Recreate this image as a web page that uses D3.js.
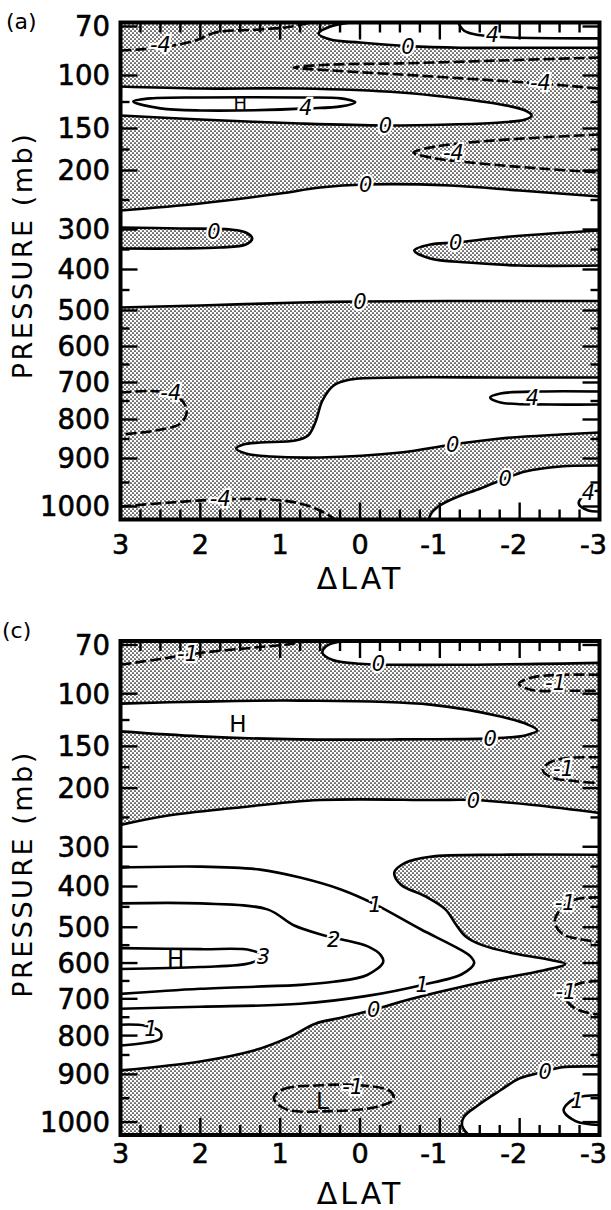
<!DOCTYPE html>
<html><head><meta charset="utf-8">
<script src="https://cdn.jsdelivr.net/npm/d3@7"></script>
<style>
html,body{margin:0;padding:0;background:#fff;}
svg{display:block;}
text{font-family:"DejaVu Sans",sans-serif;fill:#000;}
</style></head><body>
<svg id="chart" width="611" height="1210"></svg>
<script>
// ---------------- axis data ----------------
const dLatTicks = [3, 2, 1, 0, -1, -2, -3];
const dLatMinor = [2.75, 2.5, 2.25, 1.75, 1.5, 1.25, 0.75, 0.5, 0.25, -0.25, -0.5, -0.75, -1.25, -1.5, -1.75, -2.25, -2.5, -2.75];
const pressureTicks = [70, 100, 150, 200, 300, 400, 500, 600, 700, 800, 900, 1000];
const pressureMinor = [125, 175, 250, 350, 450, 550, 650, 750, 850, 950];
// the printed pressure axis is hand-spaced: level -> offset along a 497-unit tall axis
const pressureAxisLevels  = [67.5, 70, 100, 150, 200, 300, 400, 500, 600, 700, 800, 900, 1000, 1030];
const pressureAxisOffsets = [0, 4, 53, 106, 148, 207, 247, 288, 324, 360, 397, 436, 484, 497];

// ---------------- panel (a): contours as [dLAT, pressure mb] ----------------
const a_zeroTop    = [[0.12,67.5],[0.37,70],[0.52,74.3],[0.37,78],[0,79.8],[-0.6,82],[-1.26,83],[-2.0,83],[-3,83]];
const a_zeroTongue = [[3,110.4],[2,112.3],[0.75,112.3],[-0.51,116],[-1.13,120.7],[-1.76,127.3],[-2.07,133],[-2.15,137.7],[-2.07,141.5],[-1.76,144.3],[-1.13,146.2],[-0.32,147.2],[0.75,145.3],[2,141.5],[3,137.7]];
const a_zeroBand   = [[3,267.8],[2,255.9],[1,239],[0.5,228.8],[-0.07,223.7],[-1.13,225.4],[-2,233.9],[-3,244]];
const a_zeroTongueL= [[3,296.6],[2.25,298.3],[1.62,300],[1.43,307.5],[1.35,322.5],[1.43,337.5],[1.75,345],[2.25,347.5],[3,347.5]];
const a_zeroTongueR= [[-3,302.5],[-2.39,310],[-1.76,320],[-1.2,332.5],[-0.88,337.5],[-0.68,352.5],[-0.88,372.5],[-1.35,382.5],[-2,390],[-3,390]];
const a_zeroMid    = [[3,492.7],[2,487.8],[0.75,480.5],[0,478],[-1.13,476.9],[-3,476.9]];
const a_zeroS      = [[-3,686.2],[-1.76,686.2],[-0.51,686.2],[0.12,691.7],[0.33,708.1],[0.47,748.6],[0.56,807.7],[0.65,841],[0.81,853.8],[1.25,858.9],[1.46,864],[1.55,874.4],[1.43,887.2],[1.12,894.9],[0.5,897.4],[-0.51,884.6],[-1.16,864],[-1.76,848.6],[-2.51,838.5],[-3,833.3]];
const a_zeroBot    = [[-3,914.6],[-2.51,916.6],[-2.07,927],[-1.82,941.6],[-1.51,962.4],[-1.2,981.2],[-1.0,997.9],[-0.9,1013.8],[-0.86,1030]];
const a_pos4Top    = [[-1.23,67.5],[-1.3,72.4],[-1.45,74.9],[-1.66,76],[-1.89,76.7],[-3,77.3]];
const a_pos4H      = [[2.84,124.5],[2.62,121.6],[2,120.7],[0.75,120.7],[0.24,121.6],[0.06,125.4],[0.24,129.1],[0.62,131],[2,133],[2.5,131]];
const a_pos4R      = [[-3,724.3],[-2.26,724.3],[-1.76,729.7],[-1.63,740.5],[-1.76,754],[-2.39,759.4],[-3,759.4]];
const a_pos4Bot    = [[-3,966.6],[-2.82,975],[-2.74,993.8],[-2.86,1009.2],[-3,1011.5]];
const a_neg4Top    = [[3,84.7],[2.5,82.9],[2.06,78.6],[1.81,73.7],[1.25,71.8],[0.87,70.2],[0.62,67.5]];
const a_neg4Upper  = [[-3,89],[-1.76,90.8],[-0.51,92.6],[0.37,93.3],[0.83,95.1],[0.37,96.9],[-0.51,99.4],[-1.51,103.8],[-2.26,107.6],[-3,112.3]];
const a_neg4Mid    = [[-3,157.1],[-2.26,160.7],[-1.51,165.5],[-0.95,171.4],[-0.67,178.6],[-0.95,185.7],[-1.51,191.7],[-2.26,197.6],[-3,203.4]];
const a_neg4L      = [[3,727],[2.5,724.3],[2.27,740.5],[2.17,775.6],[2.25,810.2],[2.56,828.2],[3,838.5]];
const a_neg4Bot    = [[3,1000],[2.37,991.7],[1.75,985.4],[1.12,985.4],[0.75,993.8],[0.5,1009.2],[0.31,1030]];
const a_labels = [["-4",2.5,81],["0",-0.6,82],["4",-1.66,75],["4",0.68,130],["-4",-2.26,107],["0",-0.32,147.2],
  ["0",-0.07,223.7],["-4",-1.17,178],["0",1.83,304],["0",-1.2,333],["0",0,478],["-4",2.37,727],["4",-2.16,741],
  ["0",-1.16,864],["0",-1.82,941.6],["4",-2.86,971],["-4",1.75,984]];
const a_marks = [["H",1.5,126]];

// ---------------- panel (c) ----------------
const c_zeroTop    = [[0.22,67.5],[0.42,70.6],[0.47,74.9],[0.34,79.2],[0,81.6],[-1.13,82.2],[-3,81]];
const c_zeroTongue = [[3,109.4],[2,107.5],[0.75,106.6],[-0.88,110.4],[-1.76,121.7],[-2.1,129.2],[-2.22,134.9],[-2.07,139.6],[-1.63,142.4],[-0.51,143.4],[0.75,143.4],[2,140.5],[3,135.8]];
const c_zeroBand   = [[3,262.7],[2.44,247.5],[1.58,233.9],[0.5,220.3],[-0.92,220.3],[-1.42,220.3],[-2.17,228.8],[-3,242.4]];
const c_zeroMain   = [[-3,320],[-1.76,320],[-0.88,325],[-0.57,340],[-0.43,365],[-0.51,395],[-0.82,424.4],[-1.07,456.1],[-1.2,492.7],[-1.32,525],[-1.53,550],[-1.97,575],[-2.39,591.7],[-2.57,602.8],[-2.2,625],[-1.6,650],[-1.0,680.5],[-0.51,708.1],[-0.17,729.7],[0.24,751.3],[0.56,767.6],[0.87,802.6],[1.33,838.5],[2,866.7],[3,889.7]];
const c_zeroBot    = [[-3,879.5],[-2.51,882.1],[-2.32,892.3],[-2,908.3],[-1.76,933.3],[-1.48,964.6],[-1.3,989.6],[-1.28,1009.2],[-1.36,1030]];
const c_pos1       = [[3,352.5],[2,350],[1.25,357.5],[0.75,377.5],[0.24,407.3],[-0.19,443.9],[-0.76,505.6],[-1.2,555.6],[-1.38,580.6],[-1.43,600],[-1.28,630.6],[-0.78,661.1],[-0.09,691.7],[0.75,713.5],[2,721.6],[3,727]];
const c_pos2       = [[3,441.5],[2,441.5],[1.16,456.1],[0.83,495.1],[0.5,519.4],[0.24,533.4],[-0.09,552.8],[-0.26,577.8],[-0.29,597.2],[-0.09,633.4],[0.33,652.5],[0.75,661.1],[2,671.9],[3,686.2]];
const c_pos3       = [[3,558.4],[2,561.2],[1.37,564],[1.22,580.7],[1.37,600],[2,611.1],[3,616.7]];
const c_pos1L      = [[3,770.3],[2.69,773],[2.5,789.2],[2.5,807.7],[2.75,820.5],[3,825.6]];
const c_pos1Bot    = [[-3,943.7],[-2.7,950],[-2.55,975],[-2.7,997.9],[-3,1006.9]];
const c_neg1Top    = [[3,82.2],[2.5,78.6],[2,74.9],[1.37,71.8],[0.87,69.4],[0.68,67.5]];
const c_neg1R1     = [[-3,88.4],[-2.51,88.4],[-2.14,90.2],[-1.99,93.9],[-2.14,97.6],[-2.64,98.2],[-3,98.2]];
const c_neg1R2     = [[-3,163.1],[-2.57,164.3],[-2.36,170.2],[-2.29,178.6],[-2.39,186.9],[-2.7,191.7],[-3,194]];
const c_neg1R3     = [[-3,426.8],[-2.7,431.7],[-2.51,456.1],[-2.44,487.8],[-2.54,519.4],[-2.76,533.4],[-3,541.7]];
const c_neg1R4     = [[-3,650],[-2.7,661.1],[-2.57,694.4],[-2.7,727],[-3,743.2]];
const c_neg1Low    = [[1.08,950],[0.96,931.2],[0.5,922.9],[0,922.9],[-0.38,935.4],[-0.42,952.1],[-0.19,968.8],[0.37,977.1],[0.93,972.9]];
const c_labels = [["-1",2.16,75.5],["0",-0.23,81.6],["-1",-2.45,93],["0",-1.63,142.4],["-1",-2.55,177],["0",-1.42,220.3],
  ["1",-0.19,443.9],["2",0.33,533],["1",-0.78,661],["0",-0.17,729.7],["3",1.21,581],["1",2.62,781],["-1",-2.57,440],
  ["-1",-2.58,680],["0",-2.32,892.3],["1",-2.72,955],["-1",0.09,925]];
const c_marks = [["H",1.53,128.3],["H",2.31,589],["L",0.47,955]];

// ---------------- drawing ----------------
const svg = d3.select("#chart");
const defs = svg.append("defs");
const pat = defs.append("pattern").attr("id","stip").attr("patternUnits","userSpaceOnUse").attr("width",4).attr("height",4);
pat.append("rect").attr("width",4).attr("height",4).attr("fill","#fff");
pat.append("circle").attr("cx",1).attr("cy",1).attr("r",0.85).attr("fill","#000");
pat.append("circle").attr("cx",3).attr("cy",3).attr("r",0.85).attr("fill","#000");

const x = d3.scaleLinear().domain([3,-3]).range([120.5,599.5]);

const panels = [
  {id:"a", tag:"(a)", top:22.5, height:497, tagX:6, tagY:21, labDy:25, titleDy:59,
   white:[[{c:a_zeroTop},{p:[-3,67.5]}],[{c:a_zeroTongue}],[{c:a_zeroBand},{c:a_zeroMid.slice().reverse()}],[{c:a_zeroS}],[{c:a_zeroBot},{p:[-3,1030]}]],
   stip:[[{c:a_zeroTongueL}],[{c:a_zeroTongueR}]],
   solid:[a_zeroTop,a_zeroTongue,a_zeroBand,a_zeroTongueL,a_zeroTongueR,a_zeroMid,a_zeroS,a_zeroBot,a_pos4Top,a_pos4R,a_pos4Bot],
   solidClosed:[a_pos4H],
   dashed:[a_neg4Top,a_neg4Upper,a_neg4Mid,a_neg4L,a_neg4Bot], dashedClosed:[],
   labels:a_labels, marks:a_marks, markSize:18},
  {id:"c", tag:"(c)", top:641, height:494, tagX:2, tagY:630, labDy:18, titleDy:58,
   white:[[{c:c_zeroTop},{p:[-3,67.5]}],[{c:c_zeroTongue}],[{c:c_zeroBand},{c:c_zeroMain}],[{c:c_zeroBot},{p:[-3,1030]}]],
   stip:[],
   solid:[c_zeroTop,c_zeroTongue,c_zeroBand,c_zeroMain,c_zeroBot,c_pos1,c_pos2,c_pos3,c_pos1L,c_pos1Bot],
   solidClosed:[],
   dashed:[c_neg1Top,c_neg1R1,c_neg1R2,c_neg1R3,c_neg1R4], dashedClosed:[c_neg1Low],
   labels:c_labels, marks:c_marks, markSize:23}
];

panels.forEach(P => {
  const y = d3.scaleLinear().domain(pressureAxisLevels)
    .range(pressureAxisOffsets.map(o => P.top + o * P.height / 497));
  const x0 = x(3), x1 = x(-3), y0 = P.top, y1 = P.top + P.height;
  const g = svg.append("g");
  const clipId = "clip" + P.id;
  defs.append("clipPath").attr("id", clipId).append("rect")
    .attr("x", x0).attr("y", y0).attr("width", x1 - x0).attr("height", y1 - y0);
  const plot = g.append("g").attr("clip-path", `url(#${clipId})`);

  const openLine = d3.line().x(d => x(d[0])).y(d => y(d[1])).curve(d3.curveCatmullRom.alpha(0.5));
  const closedLine = d3.line().x(d => x(d[0])).y(d => y(d[1])).curve(d3.curveCatmullRomClosed.alpha(0.5));
  const regionPath = segs => {
    let s = "";
    segs.forEach((sg, i) => {
      if (sg.c) { let d = openLine(sg.c); if (i > 0) d = "L" + d.slice(1); s += d; }
      else { s += (i > 0 ? "L" : "M") + x(sg.p[0]) + "," + y(sg.p[1]); }
    });
    return s + "Z";
  };

  // negative background (stippled)
  plot.append("rect").attr("x", x0).attr("y", y0).attr("width", x1 - x0).attr("height", y1 - y0).attr("fill", "url(#stip)");
  // positive regions
  plot.selectAll("path.w").data(P.white).join("path").attr("class","w")
    .attr("d", regionPath).attr("fill", "#fff");
  plot.selectAll("path.s").data(P.stip).join("path").attr("class","s")
    .attr("d", regionPath).attr("fill", "url(#stip)");

  // contour lines
  const cl = plot.append("g").attr("fill","none").attr("stroke","#000").attr("stroke-width",2.6)
    .attr("stroke-linejoin","round").attr("stroke-linecap","round");
  cl.selectAll("path.sl").data(P.solid).join("path").attr("class","sl").attr("d", openLine);
  cl.selectAll("path.sc").data(P.solidClosed).join("path").attr("class","sc").attr("d", closedLine);
  cl.selectAll("path.dl").data(P.dashed).join("path").attr("class","dl").attr("d", openLine)
    .attr("stroke-dasharray","11,4").attr("stroke-linecap","butt");
  cl.selectAll("path.dc").data(P.dashedClosed).join("path").attr("class","dc").attr("d", closedLine)
    .attr("stroke-dasharray","11,4").attr("stroke-linecap","butt");

  // contour labels
  plot.selectAll("text.cl").data(P.labels).join("text").attr("class","cl")
    .attr("x", d => x(d[1])).attr("y", d => y(d[2]))
    .attr("dy","0.36em").attr("text-anchor","middle")
    .attr("font-size",21).attr("font-style","italic")
    .attr("stroke","#fff").attr("stroke-width",4.5).attr("paint-order","stroke")
    .text(d => d[0]);
  plot.selectAll("text.mk").data(P.marks).join("text").attr("class","mk")
    .attr("x", d => x(d[1])).attr("y", d => y(d[2]))
    .attr("dy","0.36em").attr("text-anchor","middle")
    .attr("font-size",P.markSize)
    .text(d => d[0]);

  // ticks
  const tk = g.append("g").attr("stroke","#000").attr("stroke-width",2.4);
  const tickData = [];
  pressureTicks.forEach(p => { tickData.push([x0, y(p), x0 + 17, y(p)]); tickData.push([x1 - 17, y(p), x1, y(p)]); });
  pressureMinor.forEach(p => { tickData.push([x0, y(p), x0 + 9, y(p)]); tickData.push([x1 - 9, y(p), x1, y(p)]); });
  dLatTicks.forEach(d => { tickData.push([x(d), y0, x(d), y0 + 17]); tickData.push([x(d), y1 - 17, x(d), y1]); });
  dLatMinor.forEach(d => { tickData.push([x(d), y0, x(d), y0 + 10]); tickData.push([x(d), y1 - 10, x(d), y1]); });
  tk.selectAll("line").data(tickData).join("line")
    .attr("x1", d => d[0]).attr("y1", d => d[1]).attr("x2", d => d[2]).attr("y2", d => d[3]);

  // frame
  g.append("rect").attr("x", x0).attr("y", y0).attr("width", x1 - x0).attr("height", y1 - y0)
    .attr("fill","none").attr("stroke","#000").attr("stroke-width",4);

  // y tick labels
  g.selectAll("text.yl").data(pressureTicks).join("text").attr("class","yl")
    .attr("x", 110).attr("y", d => y(d)).attr("dy","0.36em").attr("text-anchor","end")
    .attr("font-size",27.5).attr("stroke","#000").attr("stroke-width",0.6).text(d => d);
  // x tick labels
  g.selectAll("text.xl").data(dLatTicks).join("text").attr("class","xl")
    .attr("x", d => x(d) + (d < 0 ? -6 : 0)).attr("y", y1 + P.labDy).attr("dy","0.36em")
    .attr("text-anchor","middle").attr("font-size",27).attr("stroke","#000").attr("stroke-width",0.6)
    .text(d => d < 0 ? "-" + Math.abs(d) : d);
  // titles
  g.append("text").attr("x", x(0)).attr("y", y1 + P.titleDy).attr("dy","0.36em")
    .attr("text-anchor","middle").attr("font-size",30).attr("letter-spacing",3).text("\u0394LAT");
  g.append("text").attr("transform", `translate(22,${P.top + 233}) rotate(-90)`)
    .attr("dy","0.36em").attr("text-anchor","middle").attr("font-size",27).attr("letter-spacing",2.5)
    .text("PRESSURE (mb)");
  g.append("text").attr("x", P.tagX).attr("y", P.tagY).attr("dy","0.36em").attr("font-size",22).text(P.tag);
});
</script>
</body></html>
